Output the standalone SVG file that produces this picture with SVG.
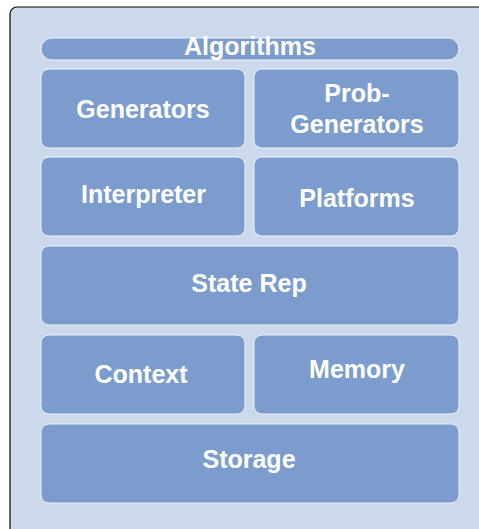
<svg xmlns="http://www.w3.org/2000/svg" width="479" height="529" viewBox="0 0 479 529">
  <style>
    .box { fill: #7B9CCD; stroke: #EEF2F8; stroke-width: 1; }
    .lbl { fill: #FFFFFF; font-family: "Liberation Sans", Arial, sans-serif; font-weight: bold; font-size: 25px; text-anchor: middle; }
  </style>
  <rect width="479" height="529" fill="#FFFFFF"/>
  <path d="M10,532 V14 A7,7 0 0 1 17,7 H482 V532 Z" fill="#CCD9EA" stroke="#000000" stroke-width="1.2"/>
  <g id="connectors"></g>
  <g id="algorithms">
    <rect class="box" x="41" y="38" width="418" height="22" rx="11" ry="11"/>
    <text class="lbl" x="250" y="55">Algorithms</text>
  </g>
  <g id="generators">
    <rect class="box" x="41" y="69" width="204" height="79" rx="8" ry="8"/>
    <text class="lbl" x="143" y="118">Generators</text>
  </g>
  <g id="prob-generators">
    <rect class="box" x="254" y="69" width="205" height="79" rx="8" ry="8"/>
    <text class="lbl" x="357" y="102">Prob-</text>
    <text class="lbl" x="357" y="133">Generators</text>
  </g>
  <g id="interpreter">
    <rect class="box" x="41" y="157" width="204" height="79" rx="8" ry="8"/>
    <text class="lbl" x="143.5" y="203">Interpreter</text>
  </g>
  <g id="platforms">
    <rect class="box" x="254" y="157" width="205" height="79" rx="8" ry="8"/>
    <text class="lbl" x="357" y="207">Platforms</text>
  </g>
  <g id="state-rep">
    <rect class="box" x="41" y="246" width="418" height="79" rx="8" ry="8"/>
    <text class="lbl" x="249" y="292">State Rep</text>
  </g>
  <g id="context">
    <rect class="box" x="41" y="335" width="204" height="79" rx="8" ry="8"/>
    <text class="lbl" x="141" y="383">Context</text>
  </g>
  <g id="memory">
    <rect class="box" x="254" y="335" width="205" height="79" rx="8" ry="8"/>
    <text class="lbl" x="357" y="378">Memory</text>
  </g>
  <g id="storage">
    <rect class="box" x="41" y="424" width="418" height="79" rx="8" ry="8"/>
    <text class="lbl" x="249" y="468">Storage</text>
  </g>
</svg>
